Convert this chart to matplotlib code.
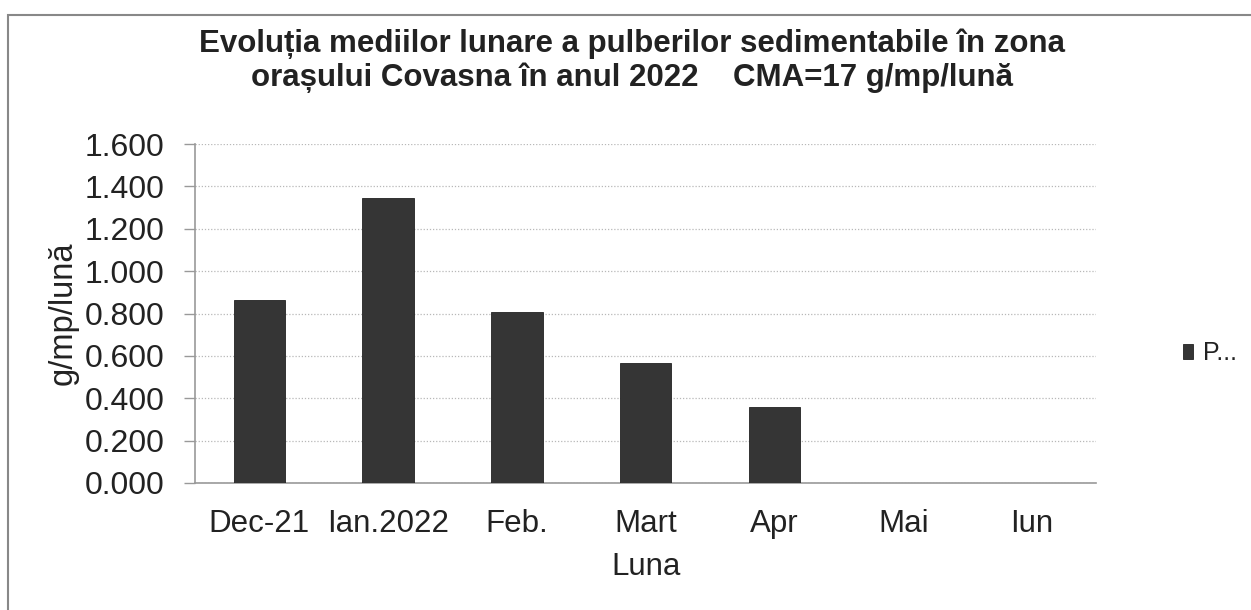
import numpy as np
import matplotlib
matplotlib.use('Agg')
import matplotlib.pyplot as plt
from matplotlib.patches import Rectangle

plt.rcParams['font.family'] = ['Liberation Sans', 'DejaVu Sans']

# data
months = ['Dec-21', 'Ian.2022', 'Feb.', 'Mart', 'Apr', 'Mai', 'Iun']
values = [0.865, 1.345, 0.808, 0.565, 0.36, 0.0, 0.0]
series_name = 'P...'
yticks = [0.0, 0.2, 0.4, 0.6, 0.8, 1.0, 1.2, 1.4, 1.6]

fig = plt.figure(figsize=(12.51, 6.10), dpi=100)
ax = fig.add_axes([0.1559, 0.2082, 0.7205, 0.5557])

x = np.arange(len(months))
ax.bar(x, values, width=0.4, color='#353535', edgecolor='#222222',
       linewidth=0.6, label=series_name, zorder=3)

ax.set_xlim(-0.5, len(months) - 0.5)
ax.set_ylim(0, 1.6)
ax.set_yticks(yticks)
ax.set_yticklabels([f'{v:.3f}' for v in yticks])
ax.set_xticks(x)
ax.set_xticklabels(months)
ax.tick_params(axis='y', labelsize=23, colors='#222222', length=8,
               width=1, color='#999999', pad=14)
ax.tick_params(axis='x', labelsize=22.5, colors='#222222', length=0, pad=19)

ax.yaxis.grid(True, linestyle=(0, (1, 1.5)), color='#b8b8b8', linewidth=0.9, zorder=0)
for s in ['top', 'right']:
    ax.spines[s].set_visible(False)
for s in ['left', 'bottom']:
    ax.spines[s].set_color('#999999')
    ax.spines[s].set_linewidth(1.2)

ax.set_ylabel('g/mp/lună', fontsize=23.5, color='#222222', labelpad=4)
ax.set_xlabel('Luna', fontsize=22.5, color='#222222', labelpad=9)

fig.text(0.505, 0.9, 'Evoluția mediilor lunare a pulberilor sedimentabile în zona\n'
         'orașului Covasna în anul 2022    CMA=17 g/mp/lună',
         ha='center', va='center', fontsize=22.5, fontweight='bold',
         color='#222222', linespacing=1.15)

leg = ax.legend(loc='center left', bbox_to_anchor=(1160 / 1251, 257 / 610),
                bbox_transform=fig.transFigure, frameon=False, fontsize=18,
                handlelength=0.42, handleheight=0.55, handletextpad=0.4)
for t in leg.get_texts():
    t.set_color('#222222')

# outer chart frame
fig.patches.append(Rectangle((8 / 1251, -0.1), 1.2, (610 - 15) / 610 + 0.1,
                             transform=fig.transFigure, fill=False,
                             edgecolor='#888888', linewidth=1.5))

fig.savefig('out.png', dpi=100)
